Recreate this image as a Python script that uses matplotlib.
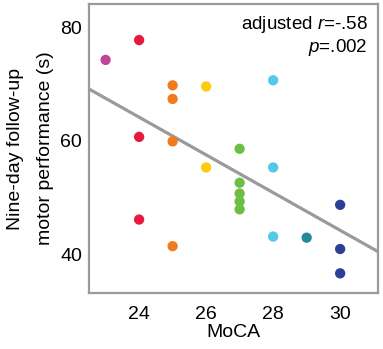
import matplotlib
matplotlib.use("Agg")
import matplotlib.pyplot as plt
import numpy as np

plt.rcParams['font.family'] = ['Liberation Sans', 'DejaVu Sans']
plt.rcParams['mathtext.fontset'] = 'custom'
plt.rcParams['mathtext.it'] = 'Liberation Sans:italic'
plt.rcParams['mathtext.rm'] = 'Liberation Sans'

# MoCA score and follow-up motor performance, grouped by colour
moca = [23, 24, 24, 24, 25, 25, 25, 25, 26, 26,
        27, 27, 27, 27, 27, 28, 28, 28, 29, 30, 30, 30]
perf = [74.3, 77.8, 60.7, 46.1, 69.8, 67.4, 59.9, 41.4, 69.6, 55.3,
        58.6, 52.6, 50.7, 49.3, 47.9, 70.7, 55.3, 43.1, 42.9, 48.7, 40.9, 36.6]
group_colors = {
    23: '#C0449A', 24: '#E8193F', 25: '#F07A1E', 26: '#FCCB0A',
    27: '#6DBE45', 28: '#52C8EA', 29: '#25899A', 30: '#2B3F99',
}

# fitted line
fit_slope = -3.33
fit_intercept = 144.1

x_ticks = [24, 26, 28, 30]
y_ticks = [40, 60, 80]

fig = plt.figure(figsize=(3.83, 3.49), dpi=100)
ax = fig.add_axes([0.232, 0.160, 0.755, 0.829])

xlim = (22.5, 31.13)
xs = np.array(xlim)
ax.plot(xs, fit_intercept + fit_slope * xs, color='#9A9A9A', lw=2.3, zorder=1)

ax.scatter(moca, perf, c=[group_colors[m] for m in moca], s=55,
           linewidths=0, zorder=2)

ax.set_xlim(*xlim)
ax.set_ylim(33.1, 84.2)
ax.set_xticks(x_ticks)
ax.set_yticks(y_ticks)
ax.tick_params(length=0, labelsize=14)
ax.tick_params(axis='x', pad=9)
ax.tick_params(axis='y', pad=5)

for sp in ax.spines.values():
    sp.set_color('#9A9A9A')
    sp.set_linewidth(1.6)

ax.set_xlabel('MoCA', fontsize=14, labelpad=1)
ax.set_ylabel('Nine-day follow-up\nmotor performance (s)', fontsize=14,
              labelpad=4, linespacing=2.05)

ax.text(0.965, 0.965, 'adjusted $\\mathit{r}$=-.58\n$\\mathit{p}$=.002',
        transform=ax.transAxes, ha='right', va='top', fontsize=13.5,
        linespacing=1.15)

fig.savefig('out.png', dpi=100)
